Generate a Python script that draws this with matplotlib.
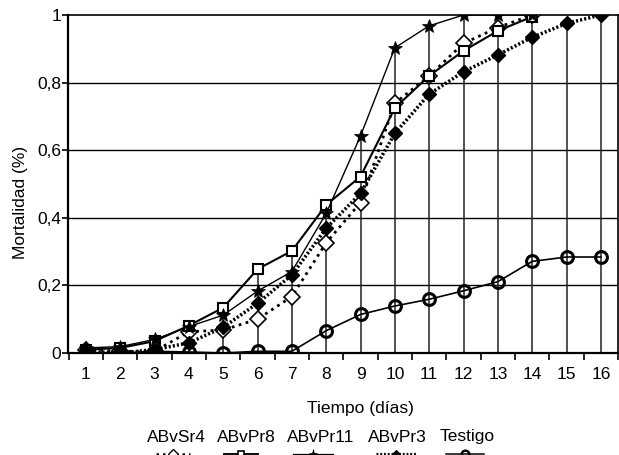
import matplotlib
matplotlib.use("Agg")
import matplotlib.pyplot as plt
from matplotlib.lines import Line2D
import numpy as np

plt.rcParams['font.family'] = ['Liberation Sans', 'DejaVu Sans']

dias = list(range(1, 17))
abvsr4 = [0.01, 0.005, 0.005, 0.063, 0.068, 0.10, 0.167, 0.326, 0.445, 0.739, 0.82, 0.916, 0.963, 1.0]
abvpr8 = [0.01, 0.015, 0.035, 0.081, 0.134, 0.248, 0.302, 0.438, 0.522, 0.725, 0.82, 0.894, 0.953, 0.995]
abvpr11 = [0.015, 0.019, 0.04, 0.078, 0.112, 0.183, 0.241, 0.413, 0.642, 0.903, 0.968, 1.0, 1.0, 1.0]
abvpr3 = [0.005, 0.0, 0.01, 0.03, 0.076, 0.147, 0.231, 0.369, 0.472, 0.65, 0.766, 0.832, 0.882, 0.934, 0.975, 1.0]
testigo = [0.0, 0.0, 0.005, 0.003, 0.0, 0.005, 0.005, 0.066, 0.114, 0.139, 0.159, 0.184, 0.211, 0.271, 0.284, 0.284]

nombres = ["ABvSr4", "ABvPr8", "ABvPr11", "ABvPr3", "Testigo"]
series = [abvsr4, abvpr8, abvpr11, abvpr3, testigo]
ytick_vals = [0, 0.2, 0.4, 0.6, 0.8, 1.0]
ytick_labels = ["0", "0,2", "0,4", "0,6", "0,8", "1"]

styles = [
    dict(color='black', lw=2.0, ls=(0, (1, 1.6)), marker='D', ms=8.5, mfc='white', mec='black', mew=1.2),
    dict(color='black', lw=1.5, ls='-', marker='s', ms=7, mfc='white', mec='black', mew=1.5),
    dict(color='black', lw=1.0, ls='-', marker='*', ms=10, mfc='black', mec='black', mew=0.5),
    dict(color='black', lw=2.5, ls=(0, (0.6, 0.6)), marker='D', ms=7, mfc='black', mec='black', mew=1),
    dict(color='black', lw=1.2, ls='-', marker='o', ms=8.5, mfc='none', mec='black', mew=2.2),
]

W, H = 619, 455
fig = plt.figure(figsize=(W / 100, H / 100), dpi=100)
ax = fig.add_axes([68 / W, 1 - 353 / H, (618 - 68) / W, (353 - 15) / H])

# drop lines: from highest value at each day down to 0
tops = []
for i, d in enumerate(dias):
    vals = [s[i] for s in series if i < len(s)]
    tops.append(max(vals))
ax.vlines(dias, 0, tops, colors='#222222', lw=1.1, zorder=1)

for y in ytick_vals[1:-1]:
    ax.axhline(y, color='black', lw=1.0, zorder=0.5)

for s, st, nm in zip(series, styles, nombres):
    ax.plot(dias[:len(s)], s, label=nm, zorder=3, **st)

ax.set_xlim(0.48, 16.5)
ax.set_ylim(0, 1)
ax.set_xticks(dias)
ax.set_xticklabels([str(d) for d in dias], fontsize=12.5)
ax.set_xticks(np.arange(0.5, 17, 1.0), minor=True)
ax.tick_params(axis='x', which='major', length=0, pad=10)
ax.tick_params(axis='x', which='minor', length=5, width=1.2, direction='out')
ax.set_yticks(ytick_vals)
ax.set_yticklabels(ytick_labels, fontsize=12.5)
ax.tick_params(axis='y', length=4, width=1.2, direction='out', pad=1)

for sp in ['left', 'bottom']:
    ax.spines[sp].set_linewidth(1.6)
for sp in ['top', 'right']:
    ax.spines[sp].set_linewidth(1.2)

fig.text(360 / W, 1 - 408 / H, "Tiempo (días)", ha='center', va='center', fontsize=12.5)
fig.text(21 / W, 1 - 202 / H, "Mortalidad (%)", ha='center', va='center', rotation=90, fontsize=12.5)

# custom legend: label above symbol
lab_cx = [176, 246, 321, 397, 467]
sym_cx = [173, 241, 313, 396, 465]
sym_w = [34, 34, 40, 40, 38]
for nm, st, lx, sx, sw in zip(nombres, styles, lab_cx, sym_cx, sym_w):
    fig.text(lx / W, 1 - 437 / H, nm, ha='center', va='center', fontsize=12.5)
    yy = 1 - 454 / H
    ln = Line2D([(sx - sw / 2) / W, (sx + sw / 2) / W], [yy, yy], transform=fig.transFigure,
                color='black', lw=st['lw'] * 0.9, ls=st['ls'])
    mk = Line2D([sx / W], [yy], transform=fig.transFigure, ls='none', marker=st['marker'],
                ms=st['ms'] * 0.65, mfc=st['mfc'], mec=st['mec'], mew=st['mew'] * 0.8)
    fig.add_artist(ln)
    fig.add_artist(mk)

fig.savefig("out.png", dpi=100)
